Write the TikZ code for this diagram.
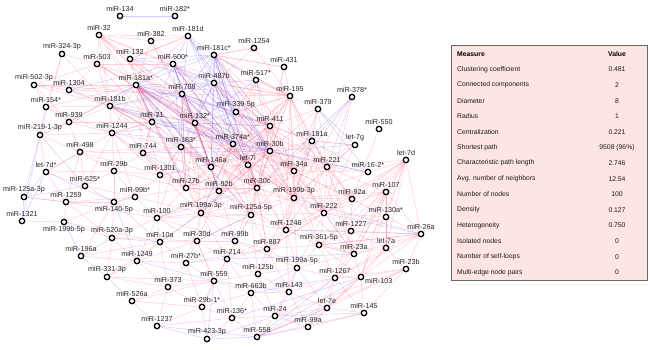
\documentclass[tikz,border=0pt]{standalone}
\usepackage{fontspec}
\setmainfont{Liberation Sans}
\pgfdeclarelayer{bg}
\pgfsetlayers{bg,main}
\definecolor{edgered}{RGB}{255,60,95}
\definecolor{edgeblue}{RGB}{70,70,255}
\definecolor{tabfill}{RGB}{255,228,228}
\newcommand\lblfont{\fontsize{7.2}{8}\selectfont}
\newcommand\tabfont{\fontsize{6.8}{8}\selectfont}
\begin{document}
\begin{tikzpicture}[x=1pt,y=-1pt,
  mi/.style={circle,draw=black,line width=1.3pt,fill=white,minimum size=5.4pt,inner sep=0pt,label distance=0.4pt},
  every label/.style={font=\lblfont,inner sep=0.6pt,text=black!85},
  re/.style={draw=edgered,opacity=0.25,line width=0.5pt},
  be/.style={draw=edgeblue,opacity=0.27,line width=0.5pt},
  rowtxt/.style={font=\tabfont,inner sep=0pt,text=black!90},
  headtxt/.style={font=\tabfont\bfseries,inner sep=0pt,text=black}]
\useasboundingbox (0,0) rectangle (650,349);
% ---------- nodes ----------
\node[mi,label=above:miR-134] (m134) at (120,16) {};
\node[mi,label=above:miR-182*] (m182s) at (175,16) {};
\node[mi,label=above:miR-32] (m32) at (99,35) {};
\node[mi,label=above:miR-382] (m382) at (151,41) {};
\node[mi,label=above:miR-181d] (m181d) at (188,36) {};
\node[mi,label=above:miR-324-3p] (m324) at (62,54) {};
\node[mi,label=above:miR-503] (m503) at (97,64) {};
\node[mi,label=above:miR-132] (m132) at (130,59) {};
\node[mi,label=above:miR-500*] (m500s) at (173,64) {};
\node[mi,label=above:miR-181c*] (m181cs) at (214,55) {};
\node[mi,label=above:miR-1254] (m1254) at (254,48) {};
\node[mi,label=above:miR-431] (m431) at (284,67) {};
\node[mi,label=above:miR-502-3p] (m502) at (34,85) {};
\node[mi,label=above:miR-1304] (m1304) at (69,90) {};
\node[mi,label=above:miR-181a*] (m181as) at (136,85) {};
\node[mi,label=above:miR-708] (m708) at (182,94) {};
\node[mi,label=above:miR-487b] (m487b) at (214,83) {};
\node[mi,label=above:miR-517*] (m517s) at (256,80) {};
\node[mi,label=above:miR-154*] (m154s) at (46,107) {};
\node[mi,label=above:miR-181b] (m181b) at (110,106) {};
\node[mi,label=above:miR-195] (m195) at (290,96) {};
\node[mi,label=above:miR-378*] (m378s) at (352,97) {};
\node[mi,label=above:miR-379] (m379) at (318,109) {};
\node[mi,label=above:miR-939] (m939) at (69,122) {};
\node[mi,label=above:miR-21] (m21) at (152,122) {};
\node[mi,label=above:miR-132*] (m132s) at (195,123) {};
\node[mi,label=above:miR-339-5p] (m339) at (236,112) {};
\node[mi,label=above:miR-411] (m411) at (270,126) {};
\node[mi,label=above:miR-219-1-3p] (m219) at (40,135) {};
\node[mi,label=above:miR-1244] (m1244) at (112,133) {};
\node[mi,label=above:miR-183*] (m183s) at (181,147) {};
\node[mi,label=above:miR-374a*] (m374as) at (233,144) {};
\node[mi,label=above:miR-181a] (m181a) at (312,141) {};
\node[mi,label=above:miR-550] (m550) at (379,129) {};
\node[mi,label=above:let-7g] (l7g) at (355,145) {};
\node[mi,label=above:miR-498] (m498) at (80,152) {};
\node[mi,label=above:miR-744] (m744) at (143,153) {};
\node[mi,label=above:miR-30b] (m30b) at (270,151) {};
\node[mi,label=above:miR-146a] (m146a) at (211,167) {};
\node[mi,label=above:let-7i] (l7i) at (248,165) {};
\node[mi,label=above:miR-34a] (m34a) at (294,171) {};
\node[mi,label=above:miR-221] (m221) at (327,167) {};
\node[mi,label=above:miR-16-2*] (m162s) at (368,172) {};
\node[mi,label=above:let-7d] (l7d) at (406,160) {};
\node[mi,label=above:let-7d*] (l7ds) at (46,172) {};
\node[mi,label=above:miR-29b] (m29b) at (114,171) {};
\node[mi,label=above:miR-1301] (m1301) at (160,175) {};
\node[mi,label=above:miR-625*] (m625s) at (85,186) {};
\node[mi,label=above:miR-27b] (m27b) at (186,188) {};
\node[mi,label=above:miR-92b] (m92b) at (219,191) {};
\node[mi,label=above:miR-30c] (m30c) at (257,188) {};
\node[mi,label=above:miR-199b-3p] (m199bt) at (294,198) {};
\node[mi,label=above:miR-92a] (m92a) at (352,199) {};
\node[mi,label=above:miR-107] (m107) at (386,192) {};
\node[mi,label=above:miR-125a-3p] (m125at) at (24,197) {};
\node[mi,label=above:miR-99b*] (m99bs) at (135,197) {};
\node[mi,label=above:miR-1259] (m1259) at (66,202) {};
\node[mi,label=below:miR-140-5p] (m140) at (114,202) {};
\node[mi,label=above:miR-100] (m100) at (157,218) {};
\node[mi,label=above:miR-199a-3p] (m199at) at (201,213) {};
\node[mi,label=above:miR-125a-5p] (m125af) at (251,215) {};
\node[mi,label=above:miR-222] (m222) at (324,213) {};
\node[mi,label=above:miR-130a*] (m130as) at (386,217) {};
\node[mi,label=above:miR-1321] (m1321) at (22,221) {};
\node[mi,label=below:miR-199b-5p] (m199bf) at (64,222) {};
\node[mi,label=above:miR-520a-3p] (m520) at (112,238) {};
\node[mi,label=above:miR-10a] (m10a) at (160,242) {};
\node[mi,label=above:miR-30d] (m30d) at (197,241) {};
\node[mi,label=above:miR-99b] (m99b) at (235,241) {};
\node[mi,label=above:miR-1246] (m1246) at (286,230) {};
\node[mi,label=above:miR-887] (m887) at (267,249) {};
\node[mi,label=above:miR-1227] (m1227) at (351,231) {};
\node[mi,label=above:miR-361-5p] (m361) at (319,245) {};
\node[mi,label=above:miR-26a] (m26a) at (421,234) {};
\node[mi,label=above:miR-196a] (m196a) at (81,256) {};
\node[mi,label=above:miR-1249] (m1249) at (137,261) {};
\node[mi,label=above:miR-27b*] (m27bs) at (186,263) {};
\node[mi,label=above:miR-214] (m214) at (227,259) {};
\node[mi,label=above:miR-23a] (m23a) at (354,254) {};
\node[mi,label=above:let-7a] (l7a) at (386,248) {};
\node[mi,label=above:miR-199a-5p] (m199af) at (297,268) {};
\node[mi,label=above:miR-331-3p] (m331) at (107,277) {};
\node[mi,label=above:miR-373] (m373) at (168,287) {};
\node[mi,label=above:miR-559] (m559) at (214,281) {};
\node[mi,label=above:miR-125b] (m125b) at (258,274) {};
\node[mi,label=above:miR-1267] (m1267) at (335,278) {};
\node[mi,label={[yshift=-4pt]east:miR-103}] (m103) at (361,277) {};
\node[mi,label=above:miR-23b] (m23b) at (406,269) {};
\node[mi,label=above:miR-526a] (m526a) at (132,301) {};
\node[mi,label=above:miR-29b-1*] (m29bo) at (202,307) {};
\node[mi,label=above:miR-663b] (m663b) at (251,293) {};
\node[mi,label=above:miR-143] (m143) at (289,292) {};
\node[mi,label=above:miR-1237] (m1237) at (157,326) {};
\node[mi,label=above:miR-136*] (m136s) at (232,318) {};
\node[mi,label=above:miR-24] (m24) at (275,316) {};
\node[mi,label=above:let-7e] (l7e) at (327,308) {};
\node[mi,label=above:miR-145] (m145) at (364,313) {};
\node[mi,label=above:miR-423-3p] (m423) at (207,339) {};
\node[mi,label=above:miR-558] (m558) at (257,337) {};
\node[mi,label=above:miR-99a] (m99a) at (308,327) {};
% ---------- edges ----------
\begin{pgfonlayer}{bg}
\foreach \h/\lst in {
m181as/{m500s,m181cs,m487b,m708,m132s,m374as,m30b,m339},
m500s/{m181cs,m487b,m708,m132s,m374as,m30b,m339},
m181cs/{m487b,m708,m132s,m374as,m30b,m339},
m487b/{m708,m132s,m374as,m30b,m339},
m708/{m132s,m374as,m30b,m339},
m132s/{m374as,m30b,m339},
m374as/{m30b,m339},
m30b/{m339},
m183s/{m181as,m500s,m708,m487b,m339,m30b},
m21/{m181as,m708,m132s,m374as,m30b,m500s},
m411/{m181cs,m487b,m708,m132s,m181as},
m146a/{m181as,m500s,m487b,m339,m181cs},
l7i/{m181as,m500s,m181cs,m487b,m708},
m181d/{m500s,m181cs,m487b,m708,m339,m374as,m30b},
m132/{m500s,m181cs,m487b},
m1304/{m708,m500s},
m181b/{m181as,m708,m132s,m374as,m30b,m146a,m487b},
m517s/{m181cs,m487b,m30b,m132s},
m134/{m182s},
m162s/{m181a,m379,m30b,m374as},
m378s/{m34a,m30c},
m379/{l7g},
l7g/{m30b},
m219/{m1321,m125at,m154s,m625s},
l7ds/{m140,m125at,m1321},
m125at/{m1321},
m140/{m10a,m1249},
m520/{m10a,m196a},
m199bf/{m196a},
m196a/{m331},
m331/{m526a},
m1249/{m559},
m559/{m423,m143},
m423/{m558,m1237,m24},
m1237/{m558},
m558/{l7e,m145,m1267,m103},
m145/{m24},
m26a/{m222,m1246,m199bt},
m744/{m92b,m30b},
m27b/{m181as,m708},
m92b/{m500s,m132s},
m30c/{m487b,m181cs},
m199bt/{m181cs},
m1244/{m132s,m374as},
m939/{m181as},
m1301/{m30b},
m100/{m30c},
m199at/{m30b,m374as},
m125af/{m181as},
m10a/{m199at},
m30d/{m125af},
m663b/{m1267},
m136s/{m103},
m214/{m23a},
m27bs/{m887}}
{\foreach \t in \lst {\draw[be] (\h) -- (\t);}}
\foreach \h/\lst in {
m32/{m382,m181as,m708,m500s,m132s,m21,m181b,m487b,m30c,m374as,m181d},
m382/{m181d,m708,m132s,m181as,m500s},
m181d/{m132,m181as,m411},
m324/{m154s,m219,m181b,m503},
m503/{m181as,m708,m1304,m181b,m21,m132s,m500s,m502,m32,m374as},
m132/{m181as,m708,m21,m181d,m132s},
m1254/{m181cs,m195,m487b},
m431/{m181cs,m195,m411,m30b},
m502/{m1304,m181as,m181b,m154s,m939,m708},
m1304/{m181as,m181b,m21,m132s},
m517s/{m339,m411,m195,m374as,l7i,m34a},
m154s/{m181b,m939,m1244,m181as},
m181b/{m21,m183s,m1244,m744,m132s,m30c,m92b},
m195/{m411,m30b,m34a,m221,m181a,m379,m374as,l7i,m199bt,m30c,m339,m517s,m181cs,m487b,m222,m1246,m23a,m92b,m146a},
m378s/{m221,m181a,m199bt,m222},
m379/{m181a,m221,m34a,m411,m30b,m199bt},
m939/{m1244,m498,m21,m181as},
m219/{m939,m1244,m498,m181b,l7ds},
m1244/{m744,m29b,m498,m1301,m183s,m21,m27b,m99bs},
m181a/{m411,m30b,m34a,m221,m199bt,m30c,l7i,l7g,m222,m92a,m1246},
m550/{m92a},
l7g/{m221,m34a,m181a,m199bt,m222},
m498/{m744,m29b,m625s,l7ds,m1259,m1301,m183s},
m744/{m183s,m1301,m21,m27b,m146a,m374as},
m162s/{m34a,m221},
l7d/{m107,m92a,m130as,m1227,m23a,m222,m26a,m221,m199bt,m103,l7a,m361,m1246},
l7ds/{m498,m625s,m1259,m29b},
m29b/{m625s,m744,m1301,m99bs,m140,m27b},
m1301/{m183s,m27b,m100,m99bs,m146a,m92b,m199at},
m625s/{m1259,m99bs,m140,m1244},
m92a/{m221,m222,m107,m199bt,m1227,m34a},
m107/{m130as,m1227,m23a,m222,m26a,m221,m103,m1267,m361,l7a,m199bt},
m125at/{m1259,m625s},
m99bs/{m100,m140,m27b,m199at},
m1259/{m140,m199bf,m520,m99bs,m100,m125at},
m140/{m99bs,m100,m520},
m100/{m27b,m199at,m10a,m30d,m92b,m125af,m1249,m99b},
m130as/{m26a,m1227,m23a,l7a,m222,m92a},
m1321/{m199bf},
m199bf/{m520,m140,m10a},
m520/{m100,m1249,m30d},
m10a/{m1249,m30d,m27bs,m199at,m373},
m30d/{m199at,m27bs,m99b,m214,m125af,m92b,m559},
m887/{m1246,m125af,m99b,m214,m199af,m125b,m361,m222,m199bt,m30c},
m1227/{m222,m23a,m361,m1246,m26a,m1267},
m361/{m1246,m222,m23a,m199af,m26a,m1267,m103,m199bt},
m26a/{m23a,m103,m1267,l7a,m23b,m361},
m196a/{m1249,m10a,m140},
m1249/{m27bs,m331,m373,m30d},
m27bs/{m214,m373,m559,m199at,m99b,m29bo},
m214/{m99b,m559,m125b,m125af,m1246,m199at,m663b,m136s,m29bo},
m23a/{m103,m1267,m199af,m361,m1246,m222,m199bt,m34a},
l7a/{m23a,m103,m1227,m1267,m23b,l7e},
m199af/{m1246,m125b,m143,m1267,m222,m99b,m24,l7e,m663b},
m331/{m373,m10a,m559,m520},
m373/{m559,m526a,m29bo,m1237},
m559/{m125b,m663b,m29bo,m136s,m30d},
m125b/{m663b,m143,m24,m99b,m125af,m1246},
m1267/{m103,l7e,m145,m143,m99a,m24},
m103/{m145,l7e,m23b,m99a},
m23b/{m1267,l7e,m145,m558,m24},
m526a/{m1237,m29bo,m559},
m29bo/{m1237,m423,m136s,m663b},
m663b/{m143,m24,m136s,m558},
m143/{m24,l7e,m99a,m887,m1246},
m1237/{m136s},
m136s/{m24,m558,m423},
m24/{m558,m99a,l7e},
l7e/{m99a,m145,m558},
m145/{m99a},
m558/{m99a},
m411/{m30b,m34a,m221,l7i,m374as,m30c,m199bt,m92b,m146a,m27b,m125af,m222},
m30b/{m34a,m221,l7i,m30c,m199bt,m92b,m146a,m27b,m199at,m125af,m222,m1246},
m374as/{l7i,m34a,m30c,m92b,m146a,m27b,m199at,m199bt,m125af},
l7i/{m34a,m30c,m92b,m146a,m27b,m199at,m199bt,m125af,m221,m1246},
m34a/{m221,m30c,m199bt,m92b,m222,m1246,m125af,m92a,m361},
m221/{m199bt,m30c,m222,m92a,m1246,m23a,m1227},
m30c/{m199bt,m92b,m146a,m27b,m199at,m125af,m1246,m222,m99b,m887},
m199bt/{m92b,m222,m1246,m125af,m199at,m199af},
m92b/{m146a,m27b,m199at,m125af,m99b,m1246,m100},
m146a/{m27b,m199at,m183s},
m27b/{m199at,m183s,m125af},
m199at/{m125af,m99b,m1246},
m125af/{m1246,m99b,m222},
m222/{m1246,m887},
m181as/{m30c,m199bt,m34a,m30b,l7i,m92b,m27b,m199at,m146a,m21,m744,m1244,m1301,m183s,m195,m125af,m222},
m500s/{m34a,m30c,l7i,m411,m195,m199bt,m146a},
m708/{m199at,m92b,m30c,m27b,m411,m195,m146a,l7i,m34a,m125af},
m132s/{m125af,m30c,m92b,m27b,m199bt,m34a,m411,m146a,m199at},
m181cs/{m221,m195,m411,m34a,m1254,m431,m30c},
m487b/{m195,m411,m34a,m199bt,m30c},
m339/{m195,m411,m34a,m30c,m199bt,m181a,m221},
m183s/{m27b,m92b,m1301,m30c,m199at,m100},
m21/{m183s,m744,m146a,m27b,m1244,m181b}}
{\foreach \t in \lst {\draw[re] (\h) -- (\t);}}
\end{pgfonlayer}
% ---------- table ----------
\node[draw=black!60,line width=0.8pt,fill=tabfill,minimum width=196pt,minimum height=235pt,inner sep=0pt,anchor=north west] (tab) at (451,45) {};
\node[headtxt,anchor=west] (h1) at (457,54) {Measure};
\node[headtxt] (h2) at (617,54) {Value};
\foreach \i/\m/\v in {1/Clustering coefficient/0.481,
2/Connected components/2,
3/Diameter/8,
4/Radius/1,
5/Centralization/0.221,
6/Shortest path/9508 (96\%),
7/Characteristic path length/2.746,
8/Avg. number of neighbors/12.54,
9/Number of nodes/100,
10/Density/0.127,
11/Heterogeneity/0.750,
12/Isolated nodes/0,
13/Number of self-loops/0,
14/Multi-edge node pairs/0}
{\node[rowtxt,anchor=west] (ma\i) at (457,54+15.6*\i) {\m};
 \node[rowtxt] (va\i) at (617,54+15.6*\i) {\v};}
\end{tikzpicture}
\end{document}
